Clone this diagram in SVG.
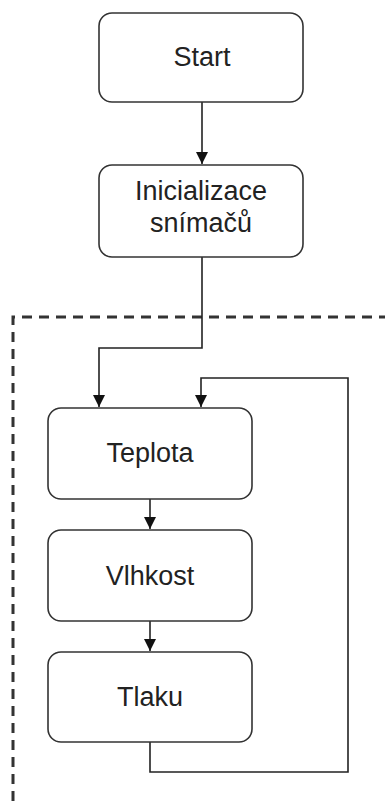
<svg xmlns="http://www.w3.org/2000/svg" width="385" height="801" viewBox="0 0 385 801">
<style>
.box{fill:#fff;stroke:#333;stroke-width:1.6}
.lbl{font-family:"Liberation Sans",Arial,sans-serif;font-size:27px;fill:#222;text-anchor:middle}
.con{fill:none;stroke:#222;stroke-width:1.6}
.frame{fill:none;stroke:#333;stroke-width:3;stroke-dasharray:10 7}
</style>
<defs>
<marker id="arr" viewBox="0 0 12 12" refX="12" refY="6" markerWidth="12" markerHeight="12" markerUnits="userSpaceOnUse" orient="auto">
<path d="M0,0 L12,6 L0,12 Z" fill="#111"/>
</marker>
</defs>
<rect width="385" height="801" fill="#fff"/>
<g id="loop-frame">
<path class="frame" d="M13,801 L13,317 L385,317"/>
</g>
<g id="connectors">
<path class="con" d="M202,102 L202,164" marker-end="url(#arr)"/>
<path class="con" d="M202,257 L202,348 L99,348 L99,407" marker-end="url(#arr)"/>
<path class="con" d="M150,499 L150,529" marker-end="url(#arr)"/>
<path class="con" d="M150,621 L150,651" marker-end="url(#arr)"/>
<path class="con" d="M150,742 L150,772 L348,772 L348,378 L201,378 L201,407" marker-end="url(#arr)"/>
</g>
<g id="start">
<rect class="box" x="99" y="13" width="204" height="89" rx="13"/>
<text class="lbl" x="202" y="66">Start</text>
</g>
<g id="init">
<rect class="box" x="99" y="165" width="204" height="92" rx="13"/>
<text class="lbl" x="201" y="200">Inicializace</text>
<text class="lbl" x="201" y="232">snímačů</text>
</g>
<g id="teplota">
<rect class="box" x="48" y="408" width="204" height="91" rx="13"/>
<text class="lbl" x="150" y="462">Teplota</text>
</g>
<g id="vlhkost">
<rect class="box" x="48" y="530" width="204" height="91" rx="13"/>
<text class="lbl" x="150" y="585">Vlhkost</text>
</g>
<g id="tlaku">
<rect class="box" x="48" y="652" width="204" height="90" rx="13"/>
<text class="lbl" x="150" y="706">Tlaku</text>
</g>
</svg>
